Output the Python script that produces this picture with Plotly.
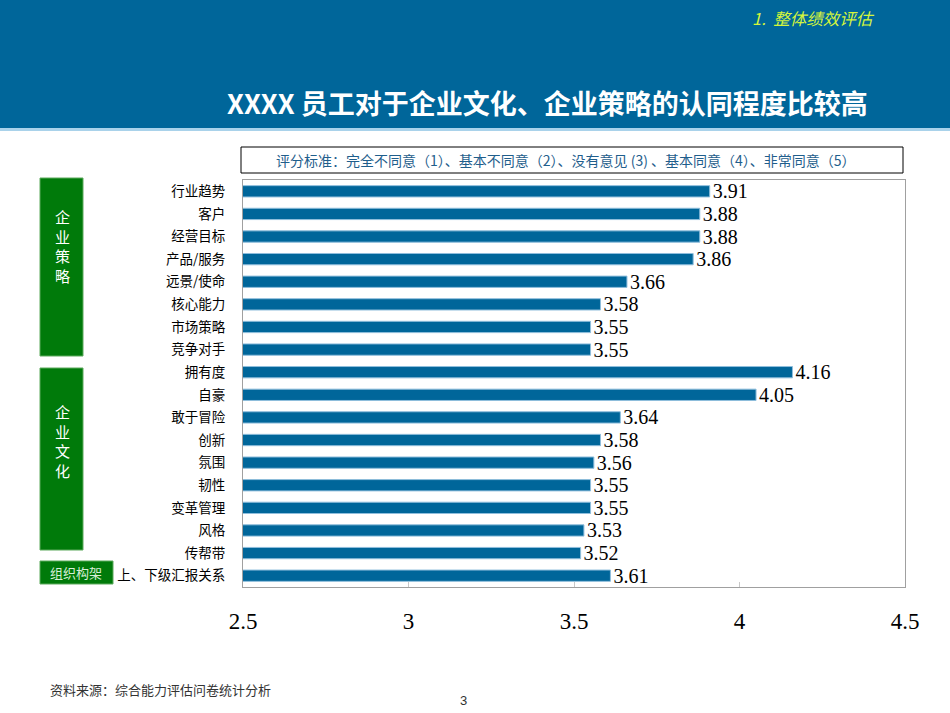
import plotly.graph_objects as go

categories = ["行业趋势", "客户", "经营目标", "产品/服务", "远景/使命", "核心能力", "市场策略", "竞争对手",
              "拥有度", "自豪", "敢于冒险", "创新", "氛围", "韧性", "变革管理", "风格", "传帮带", "上、下级汇报关系"]
scores = [3.91, 3.88, 3.88, 3.86, 3.66, 3.58, 3.55, 3.55,
          4.16, 4.05, 3.64, 3.58, 3.56, 3.55, 3.55, 3.53, 3.52, 3.61]
x_ticks = [2.5, 3, 3.5, 4, 4.5]
x_tick_labels = ["2.5", "3", "3.5", "4", "4.5"]

W, H = 950, 713
def px(x): return x / W
def py(y): return 1 - y / H

BLUE = "#00669A"
GREEN = "#007A0A"
CJK = "Noto Sans CJK SC"
SERIF = "Liberation Serif"

fig = go.Figure()
fig.add_trace(go.Bar(
    x=scores, y=categories, orientation="h",
    marker=dict(color=BLUE, line=dict(color="#8FBEDC", width=1)),
    width=0.5,
    text=[f"{v:.2f}" for v in scores], textposition="outside", constraintext="none",
    textfont=dict(family=SERIF, size=20, color="black"),
    cliponaxis=False, hoverinfo="skip",
))

shapes = [
    dict(type="rect", xref="paper", yref="paper", x0=0, x1=1, y0=py(128), y1=1,
         fillcolor=BLUE, line=dict(width=0), layer="below"),
    dict(type="rect", xref="paper", yref="paper", x0=0, x1=1, y0=py(131), y1=py(128),
         fillcolor="#A9D2EA", line=dict(width=0), layer="below"),
    dict(type="rect", xref="paper", yref="paper", x0=px(241), x1=px(903), y0=py(173), y1=py(147),
         fillcolor="white", line=dict(color="black", width=1), layer="below"),
    dict(type="rect", xref="paper", yref="paper", x0=px(40), x1=px(83), y0=py(356), y1=py(178),
         fillcolor=GREEN, line=dict(color="#5DAA5D", width=1), layer="below"),
    dict(type="rect", xref="paper", yref="paper", x0=px(40), x1=px(83), y0=py(550), y1=py(368),
         fillcolor=GREEN, line=dict(color="#5DAA5D", width=1), layer="below"),
    dict(type="rect", xref="paper", yref="paper", x0=px(40), x1=px(113), y0=py(584), y1=py(561),
         fillcolor=GREEN, line=dict(color="#5DAA5D", width=1), layer="below"),
]

def note(text, x, y, size, color, xanchor="center", family=CJK):
    return dict(text=text, x=px(x), y=py(y), xref="paper", yref="paper",
                xanchor=xanchor, yanchor="middle", showarrow=False,
                font=dict(family=family, size=size, color=color))

annotations = [
    note("<b>XXXX 员工对于企业文化、企业策略的认同程度比较高</b>", 870, 103, 27, "white", "right"),
    note("<i>1.  整体绩效评估</i>", 877, 18, 16.5, "#D4F53C", "right"),
    note("评分标准：完全不同意（1）、基本不同意（2）、没有意见 (3) 、基本同意（4）、非常同意（5）",
         566, 160, 14, "#1F5E8C"),
    note("企<br>业<br>策<br>略", 62, 246, 15, "white"),
    note("企<br>业<br>文<br>化", 62, 441, 15, "white"),
    note("组织构架", 76, 572, 13, "#D8EED8"),
    note("资料来源：综合能力评估问卷统计分析", 48, 689, 13, "#333333", "left"),
    note("3", 463, 700, 13, "#333333", "center", "Liberation Sans"),
]

fig.update_layout(
    width=W, height=H, margin=dict(l=0, r=0, t=0, b=0, pad=0),
    paper_bgcolor="white", plot_bgcolor="white",
    showlegend=False, shapes=shapes, annotations=annotations,
    xaxis=dict(domain=[px(243), px(905)], range=[2.5, 4.5], tickvals=x_ticks, ticktext=x_tick_labels,
               showgrid=False, zeroline=False, showline=True, linecolor="#A0A0A0", mirror=True,
               ticks="inside", ticklen=5, tickcolor="#C8C8C8", automargin=False,
               tickfont=dict(family=SERIF, size=23, color="black"), ticklabelstandoff=13),
    yaxis=dict(domain=[py(587), py(180)], autorange="reversed", showgrid=False, zeroline=False,
               showline=True, linecolor="#A0A0A0", mirror=True, automargin=False,
               ticks="outside", ticklen=0, tickfont=dict(family=CJK, size=13.5, color="black"),
               ticklabelstandoff=14),
    bargap=0.5,
)

fig.write_html("out.html", config={"displayModeBar": False},
               post_script="document.body.style.margin='0';")
